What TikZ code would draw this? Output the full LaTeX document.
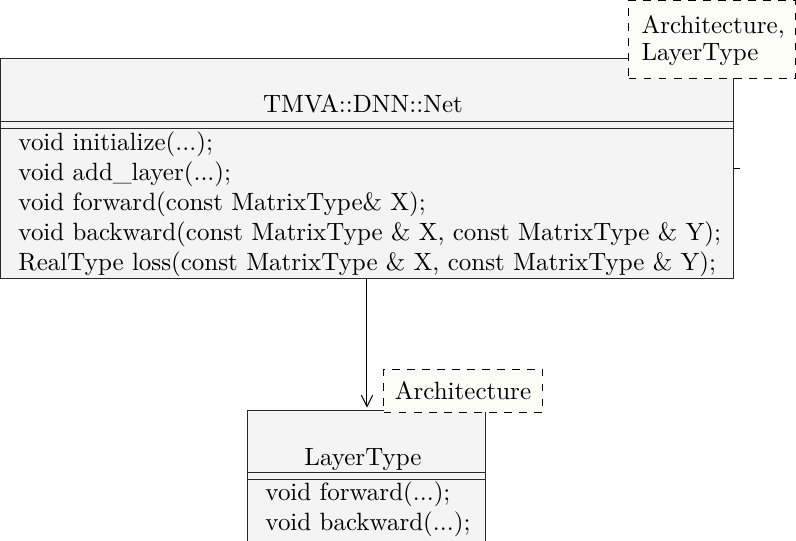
\documentclass[tikz,border=0pt]{standalone}
\usetikzlibrary{positioning,arrows.meta,fit}
\definecolor{clsfill}{RGB}{244,244,244}
\definecolor{tplfill}{RGB}{253,253,248}
\definecolor{clsline}{RGB}{40,40,40}
\tikzset{
  umlclass/.style={draw=clsline, fill=clsfill, inner sep=0pt},
  tpl/.style={draw=black, dashed, fill=tplfill, inner sep=0pt},
  cname/.style={anchor=base, inner sep=0pt},
  meth/.style={anchor=base west, inner sep=0pt},
}

\begin{document}
\begin{tikzpicture}[x=0.4pt,y=-0.4pt]
\useasboundingbox (0,0) rectangle (796,541);

% ------------------------------------------------- TMVA::DNN::Net
\node[umlclass, fit={(0,58) (734,278)}] (net) {};
\draw[clsline] (net.west |- 0,121) -- (net.east |- 0,121);
\draw[clsline] (net.west |- 0,128) -- (net.east |- 0,128);
\draw (net.east |- 0,168) -- ++(6,0);
\node[cname] (netname) at (363,112) {TMVA::DNN::Net};
\node[meth] (netm1) at (18,150) {void initialize(...);};
\node[meth] (netm2) at (18,180) {void add\_layer(...);};
\node[meth] (netm3) at (18,210) {void forward(const MatrixType\& X);};
\node[meth] (netm4) at (18,240) {void backward(const MatrixType \& X, const MatrixType \& Y);};
\node[meth] (netm5) at (18,270) {RealType loss(const MatrixType \& X, const MatrixType \& Y);};

% template of Net
\node[tpl, fit={(629,0) (796,78)}] (nettpl) {};
\node[meth] (nettpl1) at (641,33) {Architecture,};
\node[meth] (nettpl2) at (641,60) {LayerType};

% ------------------------------------------------- LayerType
\node[umlclass, fit={(248,410) (486,560)}] (layer) {};
\draw[clsline] (layer.west |- 0,472) -- (layer.east |- 0,472);
\draw[clsline] (layer.west |- 0,479) -- (layer.east |- 0,479);
\node[cname] (layername) at (363,465) {LayerType};
\node[meth] (layerm1) at (265,500) {void forward(...);};
\node[meth] (layerm2) at (265,530) {void backward(...);};

% template of LayerType
\node[tpl, fit={(384,369) (543,412)}] (layertpl) {};
\node[cname] (layertpl1) at (463,399) {Architecture};

% ------------------------------------------------- uses
\draw[-{Straight Barb[length=4.5pt,width=4.5pt]}, shorten >=0.8pt] (net.south) -- (layer.north);

\end{tikzpicture}
\end{document}
